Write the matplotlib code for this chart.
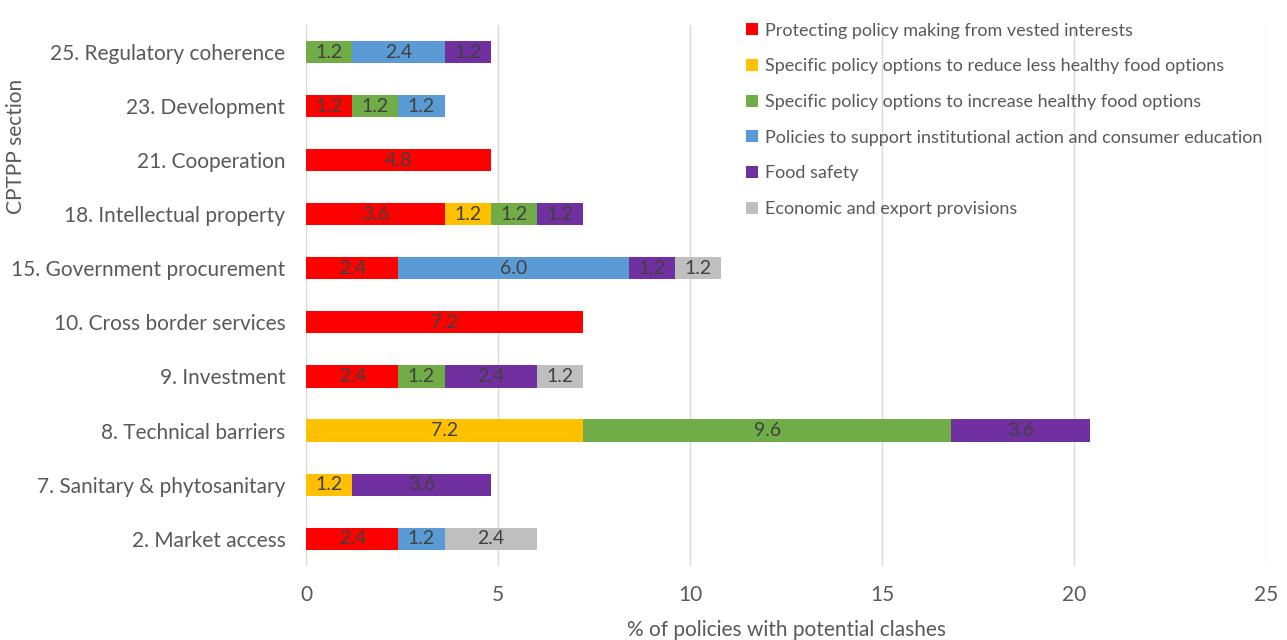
import numpy as np
import matplotlib
matplotlib.use("Agg")
import matplotlib.pyplot as plt

plt.rcParams['font.family'] = ['Lato', 'DejaVu Sans']

sections = ['2. Market access', '7. Sanitary & phytosanitary', '8. Technical barriers',
            '9. Investment', '10. Cross border services', '15. Government procurement',
            '18. Intellectual property', '21. Cooperation', '23. Development',
            '25. Regulatory coherence']

series_names = ['Protecting policy making from vested interests',
                'Specific policy options to reduce less healthy food options',
                'Specific policy options to increase healthy food options',
                'Policies to support institutional action and consumer education',
                'Food safety',
                'Economic and export provisions']

protecting = [2.4, 0, 0, 2.4, 7.2, 2.4, 3.6, 4.8, 1.2, 0]
reduce_unhealthy = [0, 1.2, 7.2, 0, 0, 0, 1.2, 0, 0, 0]
increase_healthy = [0, 0, 9.6, 1.2, 0, 0, 1.2, 0, 1.2, 1.2]
institutional = [1.2, 0, 0, 0, 0, 6.0, 0, 0, 1.2, 2.4]
food_safety = [0, 3.6, 3.6, 2.4, 0, 1.2, 1.2, 0, 0, 1.2]
economic = [2.4, 0, 0, 1.2, 0, 1.2, 0, 0, 0, 0]

colors = ['#FF0000', '#FFC000', '#70AD47', '#5B9BD5', '#7030A0', '#BFBFBF']


def draw_chart():
    fig = plt.figure(figsize=(12.87, 6.4), dpi=100)
    ax = fig.add_axes([0.238, 0.116, 0.746, 0.845])

    y = np.arange(len(sections))
    left = np.zeros(len(sections))
    all_series = [protecting, reduce_unhealthy, increase_healthy,
                  institutional, food_safety, economic]
    for name, vals, col in zip(series_names, all_series, colors):
        vals = np.array(vals)
        ax.barh(y, vals, left=left, height=0.41, color=col, label=name, zorder=3)
        for yi, (l, v) in enumerate(zip(left, vals)):
            if v > 0:
                ax.text(l + v / 2, yi, f'{v:.1f}', ha='center', va='center',
                        fontsize=14, color='#404040', zorder=4)
        left += vals

    ax.set_xlim(0, 25)
    ax.set_ylim(-0.5, 9.5)
    ax.set_yticks(y)
    ax.set_yticklabels(sections)
    ax.set_xticks([0, 5, 10, 15, 20, 25])
    ax.tick_params(axis='both', length=0, labelsize=15, colors='#595959')
    ax.tick_params(axis='x', pad=14)
    ax.tick_params(axis='y', pad=15)
    ax.grid(axis='x', color='#D9D9D9', linewidth=1, zorder=0)
    for s in ax.spines.values():
        s.set_visible(False)

    ax.set_xlabel('% of policies with potential clashes', fontsize=15,
                  color='#595959', labelpad=11)
    ax.set_ylabel('CPTPP section', fontsize=15, color='#595959')
    ax.yaxis.set_label_coords(-0.292, 0.775)

    ax.legend(loc='upper left', bbox_to_anchor=(0.567, 0.99),
              bbox_transform=fig.transFigure, frameon=False, fontsize=13,
              labelcolor='#595959', handlelength=0.65, handleheight=0.65,
              handletextpad=0.4, labelspacing=1.09)

    fig.savefig('out.png', dpi=100)


def main():
    draw_chart()


if __name__ == "__main__":
    main()
